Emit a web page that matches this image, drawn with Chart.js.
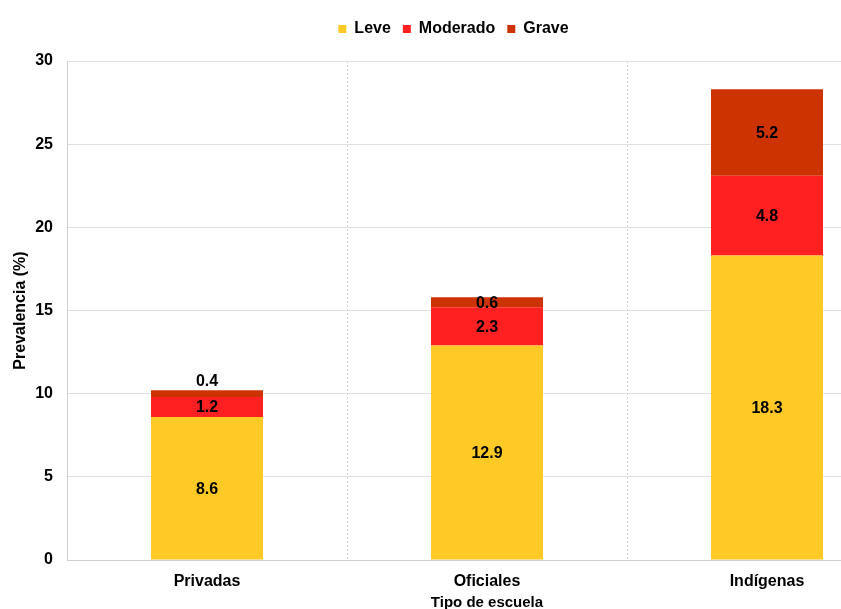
<!DOCTYPE html>
<html>
<head>
<meta charset="utf-8">
<script src="https://cdn.jsdelivr.net/npm/chart.js@4"></script>
<style>
  html, body { margin: 0; padding: 0; overflow: hidden; background: #fff; }
  #wrap { width: 915px; height: 618px; }
</style>
</head>
<body>
<div id="wrap"><canvas id="prevChart"></canvas></div>
<script>
const categories = ['Privadas', 'Oficiales', 'Indígenas'];
const leve = [8.6, 12.9, 18.3];
const moderado = [1.2, 2.3, 4.8];
const grave = [0.4, 0.6, 5.2];
const yTicks = [0, 5, 10, 15, 20, 25, 30];

const FONT = 'Liberation Sans, Arial, sans-serif';

// etiquetas de valor dentro de cada segmento
const valueLabels = {
    id: 'valueLabels',
    afterDatasetsDraw(chart) {
        const ctx = chart.ctx;
        ctx.save();
        ctx.font = 'bold 16px ' + FONT;
        ctx.fillStyle = '#000';
        ctx.textAlign = 'center';
        ctx.textBaseline = 'middle';
        const last = chart.data.datasets.length - 1;
        chart.data.datasets.forEach((ds, i) => {
            const meta = chart.getDatasetMeta(i);
            meta.data.forEach((bar, j) => {
                const h = bar.base - bar.y;
                let y = (bar.y + bar.base) / 2;
                if (i === last && h < 8) y = bar.y - 10;
                ctx.fillText(ds.data[j].toFixed(1), bar.x, y + 1);
            });
        });
        ctx.restore();
    }
};

// deja un poco mas de espacio bajo la leyenda
const legendGap = {
    id: 'legendGap',
    beforeLayout(chart) {
        const lg = chart.legend;
        if (lg && !lg._gapPatched) {
            const fit = lg.fit;
            lg.fit = function() {
                fit.call(this);
                this.height += 14;
            };
            lg._gapPatched = true;
        }
    }
};

document.addEventListener('DOMContentLoaded', function() {
    const ctx = document.getElementById('prevChart').getContext('2d');
    new Chart(ctx, {
        type: 'bar',
        data: {
            labels: categories,
            datasets: [
                { label: 'Leve', data: leve, backgroundColor: '#FFC926' },
                { label: 'Moderado', data: moderado, backgroundColor: '#FF2121' },
                { label: 'Grave', data: grave, backgroundColor: '#CC3300' }
            ]
        },
        options: {
            responsive: true,
            maintainAspectRatio: false,
            animation: false,
            categoryPercentage: 1,
            barPercentage: 0.4,
            layout: { padding: { top: 9, right: 8, left: 0, bottom: 0 } },
            plugins: {
                legend: {
                    position: 'top',
                    labels: {
                        boxWidth: 8,
                        boxHeight: 8,
                        padding: 12,
                        color: '#000',
                        font: { family: FONT, size: 16, weight: 'bold' }
                    }
                },
                tooltip: { enabled: false }
            },
            scales: {
                x: {
                    stacked: true,
                    grid: { color: '#d0d0d0', drawTicks: false },
                    border: { color: '#d0d0d0', dash: [2, 2] },
                    ticks: {
                        padding: 12,
                        color: '#000',
                        font: { family: FONT, size: 16, weight: 'bold' }
                    },
                    title: {
                        display: true,
                        text: 'Tipo de escuela',
                        color: '#000',
                        padding: { top: 4, bottom: 6 },
                        font: { family: FONT, size: 15, weight: 'bold' }
                    },
                    afterFit(scale) { scale.height = 58; }
                },
                y: {
                    stacked: true,
                    min: 0,
                    max: 30,
                    afterBuildTicks(scale) { scale.ticks = yTicks.map(v => ({ value: v })); },
                    grid: { color: '#e0e0e0', drawTicks: false },
                    border: { color: '#d0d0d0' },
                    ticks: {
                        padding: 14,
                        color: '#000',
                        font: { family: FONT, size: 16, weight: 'bold' }
                    },
                    title: {
                        display: true,
                        text: 'Prevalencia (%)',
                        color: '#000',
                        padding: { top: 11, bottom: 0 },
                        font: { family: FONT, size: 16, weight: 'bold' }
                    },
                    afterFit(scale) { scale.width = 67; }
                }
            }
        },
        plugins: [valueLabels, legendGap]
    });
});
</script>
</body>
</html>
